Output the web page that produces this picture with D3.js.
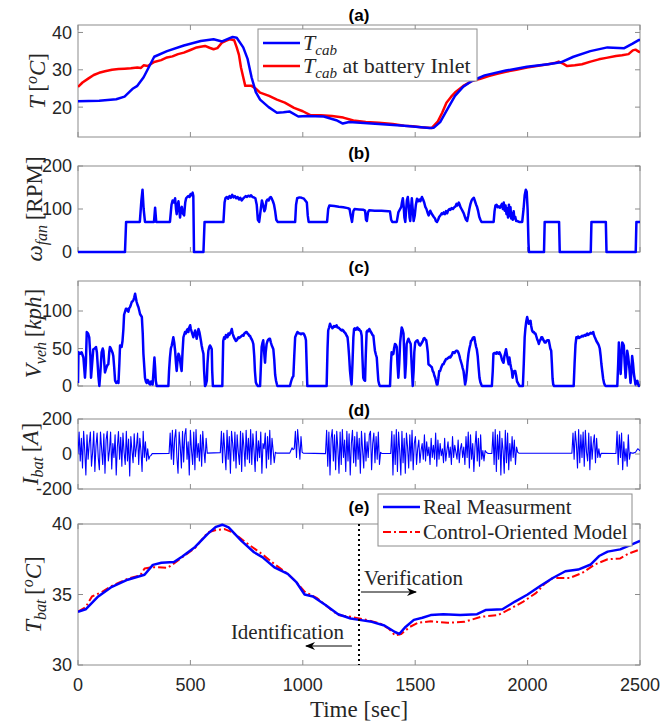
<!DOCTYPE html>
<html>
<head>
<meta charset="utf-8">
<script src="https://cdn.jsdelivr.net/npm/d3@7"></script>
<style>
  html, body { margin: 0; padding: 0; background: #fff; }
  svg { display: block; }
  .tick-label { font-family: "Liberation Sans", Arial, sans-serif; font-size: 18px; fill: #262626; }
  .title { font-family: "Liberation Sans", Arial, sans-serif; font-size: 17px; font-weight: bold; fill: #000; }
</style>
</head>
<body>
<svg id="chart" width="662" height="721"></svg>
<script>
// ---- (a) cabin temperature ----
const cabTime = [0,94,170,207,245,264,292,339,396,471,546,603,641,688,706,735,754,772,791,810,848,885,914,942,980,1017,1093,1149,1178,1206,1338,1451,1526,1564,1583,1611,1639,1677,1714,1752,1809,1903,1997,2091,2148,2204,2279,2355,2430,2467,2496,2500];
const cabTemp = [21.6,21.7,22.1,22.8,25.0,25.7,28.0,33.5,35.0,36.5,37.7,38.2,37.6,38.8,38.6,36.0,33.0,28.0,24.0,22.0,20.0,18.5,18.6,18.8,17.5,17.6,17.5,16.5,15.6,16.0,15.5,15.0,14.6,14.4,14.5,16.0,19.0,23.0,25.5,27.0,28.5,29.8,30.8,31.5,32.0,33.5,35.0,36.0,35.8,37.0,38.0,38.0];
const inletTime = [0,20,47,70,94,120,151,180,207,235,264,280,292,310,339,370,396,420,445,471,500,528,545,565,585,603,620,641,660,678,695,706,716,725,735,744,772,790,810,850,885,920,961,1000,1036,1080,1130,1180,1225,1280,1338,1400,1451,1490,1526,1573,1601,1620,1639,1660,1677,1714,1752,1790,1827,1865,1903,1950,1997,2040,2091,2120,2138,2160,2176,2210,2242,2280,2317,2350,2393,2420,2449,2468,2480,2496,2500];
const inletTemp = [25.4,26.6,27.7,28.6,29.2,29.6,30.0,30.2,30.3,30.4,30.6,30.5,31.2,31.0,32.1,32.6,33.3,33.6,34.2,34.6,35.3,36.0,36.2,36.4,35.9,35.5,35.8,37.3,37.8,38.2,37.9,36.0,34.0,30.6,28.0,25.7,25.7,25.0,23.9,23.0,22.0,21.2,19.8,18.9,17.8,17.8,17.6,17.2,16.4,16.0,15.8,15.5,15.0,14.9,14.6,14.4,16.2,18.5,21.2,22.8,23.9,25.7,27.0,27.6,28.3,28.9,29.5,30.0,30.6,31.0,31.5,31.8,32.2,31.6,31.0,31.2,31.5,32.2,32.8,33.2,33.7,33.9,34.2,35.2,35.4,34.8,34.7];

// ---- (b) fan speed ----
const fanTime = [0,209,214,275,282,287,292,298,338,343,348,409,416,421,427,432,436,439,443,447,451,454,458,462,466,472,477,481,486,491,496,501,506,510,513,516,558,563,647,652,656,662,668,674,680,686,692,698,704,710,716,722,728,734,740,746,752,758,764,770,776,782,789,795,800,806,812,818,824,829,833,838,843,848,853,858,862,867,872,877,882,888,966,970,975,985,995,1005,1011,1018,1022,1026,1108,1113,1118,1140,1160,1180,1200,1208,1213,1219,1225,1230,1250,1270,1277,1281,1285,1290,1295,1320,1350,1380,1388,1393,1398,1418,1425,1433,1438,1441,1445,1449,1452,1456,1460,1463,1467,1471,1475,1478,1482,1485,1489,1493,1498,1503,1508,1513,1518,1523,1527,1530,1535,1540,1545,1550,1556,1560,1564,1567,1572,1577,1582,1588,1592,1597,1602,1607,1612,1618,1622,1627,1632,1637,1642,1647,1652,1656,1662,1668,1674,1679,1684,1688,1694,1698,1701,1706,1711,1716,1721,1726,1731,1736,1741,1746,1751,1756,1761,1766,1771,1775,1780,1785,1790,1795,1849,1853,1857,1862,1867,1872,1877,1882,1886,1890,1894,1898,1902,1906,1909,1913,1917,1920,1924,1927,1931,1934,1938,1941,1945,1949,1955,1962,1976,1982,1987,1992,1996,2000,2004,2006,2073,2076,2140,2143,2281,2284,2348,2351,2481,2484,2500];
const fanSpeed = [0,0,70,70,120,145,100,70,70,103,70,70,110,120,115,125,100,88,110,118,95,80,100,105,90,85,115,125,128,130,128,135,132,138,130,0,0,70,70,115,125,128,124,130,126,133,127,130,125,128,122,126,120,124,127,130,128,131,129,132,128,127,125,110,75,70,95,120,108,95,100,118,122,120,126,128,124,118,110,95,75,70,70,110,125,127,126,124,120,115,85,70,70,100,108,107,105,104,102,100,85,70,95,100,99,98,96,75,72,92,97,96,96,95,94,75,70,70,92,100,105,115,125,105,80,70,100,120,128,110,80,72,105,125,100,72,85,110,124,118,122,118,124,128,122,115,105,100,90,85,92,96,90,86,82,78,72,70,75,82,85,90,88,92,88,95,90,97,100,98,102,100,104,106,112,108,115,110,105,100,95,90,82,75,72,85,100,112,120,124,126,118,110,105,95,82,75,70,70,95,108,110,104,106,103,108,112,100,115,96,108,88,102,80,110,84,104,78,90,75,95,78,82,72,72,70,70,100,132,145,140,100,20,0,0,70,70,0,0,70,70,0,0,70,70];

// ---- (c) vehicle speed ----
const vehTime = [0,2,9,16,24,31,35,39,45,50,55,58,63,68,74,80,84,87,91,95,100,105,110,113,117,120,124,127,131,135,139,142,146,150,154,157,161,165,170,175,180,184,187,191,194,198,202,205,209,213,217,221,224,228,231,235,239,243,246,250,254,257,261,265,269,273,276,280,284,288,291,295,298,302,306,310,313,317,321,325,328,332,336,340,343,346,350,402,405,409,413,417,421,424,428,432,436,439,443,447,451,454,458,461,465,469,472,476,480,484,488,491,495,499,502,506,510,513,517,521,525,528,532,536,540,543,547,550,554,558,561,565,569,573,576,580,584,587,591,595,597,600,642,646,650,654,658,661,665,669,673,676,680,684,688,691,695,699,702,706,710,714,718,721,725,729,733,736,740,744,747,750,754,758,762,765,769,773,776,780,784,787,791,795,800,810,814,817,821,824,828,832,835,839,843,847,850,854,858,862,865,869,873,877,881,885,887,943,947,951,955,958,962,966,970,973,976,980,984,988,992,996,1000,1003,1007,1011,1014,1017,1020,1106,1110,1113,1117,1121,1125,1128,1132,1135,1139,1143,1147,1150,1154,1158,1162,1165,1169,1173,1177,1180,1184,1188,1192,1195,1199,1202,1206,1210,1214,1217,1221,1225,1228,1232,1236,1239,1243,1247,1250,1254,1258,1262,1265,1269,1273,1277,1280,1284,1288,1292,1296,1299,1303,1307,1310,1314,1318,1321,1325,1329,1333,1336,1340,1343,1388,1392,1395,1399,1403,1406,1410,1414,1418,1421,1425,1429,1433,1437,1440,1444,1448,1451,1455,1459,1462,1466,1470,1474,1477,1480,1484,1489,1493,1496,1500,1505,1510,1514,1518,1522,1526,1530,1534,1537,1541,1545,1549,1552,1556,1559,1563,1567,1570,1574,1578,1582,1585,1589,1593,1596,1599,1603,1607,1611,1615,1619,1622,1626,1630,1634,1637,1641,1645,1649,1652,1656,1660,1664,1667,1671,1675,1679,1682,1686,1690,1694,1697,1700,1704,1708,1711,1715,1719,1722,1726,1730,1733,1737,1741,1745,1748,1752,1756,1760,1763,1767,1771,1774,1778,1782,1786,1790,1794,1797,1841,1845,1848,1852,1856,1860,1863,1867,1871,1875,1878,1882,1886,1889,1893,1897,1901,1904,1908,1912,1916,1919,1923,1926,1930,1933,1937,1941,1945,1949,1953,1957,1960,1964,1979,1983,1987,1990,1994,1998,2001,2005,2009,2013,2016,2020,2024,2028,2031,2035,2039,2043,2046,2050,2054,2058,2061,2065,2069,2073,2076,2080,2084,2088,2091,2094,2098,2101,2105,2108,2111,2114,2118,2205,2209,2213,2217,2221,2225,2229,2232,2235,2239,2243,2247,2250,2254,2258,2262,2265,2269,2273,2277,2280,2284,2288,2292,2295,2299,2302,2306,2310,2314,2317,2321,2325,2328,2332,2336,2340,2344,2347,2399,2403,2406,2410,2414,2418,2421,2425,2428,2432,2436,2440,2443,2447,2451,2455,2458,2462,2465,2469,2473,2477,2480,2484,2488,2491,2495,2500];
const vehSpeed = [4,45,43,45,38,11,30,72,70,65,40,11,30,49,50,52,45,31,12,0,20,45,50,47,30,18,22,25,28,29,45,52,50,47,44,40,25,7,4,6,4,30,54,52,52,60,76,95,99,103,103,100,99,104,105,108,112,113,114,118,123,118,112,108,105,100,96,94,92,70,43,25,11,6,4,8,7,3,2,6,3,2,20,38,25,7,0,0,20,38,50,54,60,65,58,47,30,20,35,43,40,34,25,20,45,65,68,72,70,74,76,72,78,81,76,72,68,65,70,74,68,63,70,76,72,67,60,54,48,43,20,0,2,7,30,47,52,54,52,49,20,0,0,60,65,63,68,67,65,70,68,70,72,76,70,67,64,62,60,61,63,65,64,65,66,67,68,67,70,71,72,72,70,69,67,67,64,62,60,56,40,20,5,2,0,0,30,52,58,61,45,31,45,56,60,62,63,63,58,54,52,49,35,15,7,2,0,0,5,9,12,13,40,65,68,70,72,71,70,70,69,70,70,70,68,65,61,30,0,0,50,74,78,83,80,79,77,78,80,79,80,81,78,78,77,76,75,74,75,74,72,71,69,67,65,56,40,20,8,2,30,65,76,77,75,76,78,75,76,74,73,67,40,11,8,7,40,72,74,73,76,74,72,70,68,67,55,47,42,38,20,7,2,0,0,30,45,42,43,50,56,55,52,30,11,30,58,70,78,75,70,45,11,30,56,60,63,60,58,56,30,0,20,45,58,60,61,58,55,54,56,58,60,63,64,62,61,55,45,29,28,27,26,25,20,18,14,11,6,2,2,10,20,20,24,27,29,29,32,34,36,36,37,38,39,38,40,42,45,45,44,46,47,47,46,43,40,36,32,28,24,20,10,2,8,20,32,43,50,55,60,61,64,65,65,58,52,49,40,25,11,5,2,0,0,20,43,44,44,43,45,44,43,45,43,40,35,33,31,40,45,49,42,35,29,38,30,25,20,11,18,20,20,14,6,4,2,0,0,30,65,76,86,92,88,83,86,87,80,74,72,72,70,70,66,62,60,56,60,62,65,65,62,60,58,58,60,61,61,61,55,50,47,30,10,2,0,0,30,55,65,64,66,64,65,65,66,67,66,67,68,67,69,70,68,69,70,71,70,70,72,68,65,63,60,58,56,54,50,40,30,20,10,4,1,0,0,30,58,40,16,40,58,56,54,30,11,30,47,40,29,15,4,20,40,30,16,8,2,6,7,3,0,2];

// ---- (d) battery current: bursts sampled every currentStep seconds ----
const currentStep = 5;
const burstStart = [0, 405, 633, 942, 1101, 1391, 1841, 2197, 2393];
const burstValues = [
  [2,125,-40,90,-80,130,20,-120,110,-30,60,125,-70,10,130,-100,45,120,-20,-90,125,30,-60,115,-110,80,130,-40,20,125,-85,60,-20,110,-120,40,128,-30,95,-70,120,10,-60,130,-40,85,-125,100,20,-50,115,-15,40,120,-60,90,20,-100,130,-20,70,-40,30,-30,-12,-8,2],
  [3,120,-30,135,-60,90,140,-20,-110,125,40,-80,130,-45,110,145,-30,70,-120,135,20,-60,125,-90,140,-20,60,-40,110,-70,130,20,-50,90,5],
  [8,130,-50,120,20,-90,135,-30,100,-110,130,60,-40,125,-80,110,10,-60,130,-100,120,40,-70,135,-30,90,-50,140,-60,115,20,-100,130,-40,75,-20,125,-110,60,30,120,-80,100,-30,135,-60,90,20,-50,10,5],
  [5,20,35,25,30,130,-20,140,60,-30,100,10,5],
  [2,135,-70,125,-120,90,140,-40,110,-90,130,30,-110,125,-60,140,-20,80,-100,130,-40,115,-120,60,135,-50,100,-70,125,-30,90,-110,130,20,-80,120,-40,70,-20,110,130,-90,60,120,-50,100,-30,125,-60,10,3],
  [3,130,-120,110,-60,140,-100,125,20,-120,130,-50,90,-110,120,40,-80,110,-40,135,-90,60,100,-60,30,80,-50,20,60,-30,110,-40,70,-10,40,-60,90,-20,50,-30,120,-70,80,-30,60,-10,30,-50,90,-40,20,70,-20,40,-60,100,-20,50,10,-30,80,-50,30,60,-20,40,-60,100,-20,125,-80,110,-30,60,-100,40,130,-40,90,-70,110,-30,20,-40,20,10,5,3],
  [3,125,-60,140,-100,110,-30,130,-120,90,20,-110,135,-50,120,-90,60,-40,100,-20,80,-60,40,10,5],
  [4,120,-30,130,60,-80,140,-50,110,-20,125,-70,135,10,-40,120,-90,100,-30,60,110,-50,90,-20,30,-20,4],
  [3,130,-60,110,-20,120,-90,70,-40,30,-70,110,-30,10,5]
];
const currentTailTime = [2470, 2480, 2490, 2495, 2500];
const currentTail = [5, 10, 30, 25, 18];

// ---- (e) battery temperature ----
const batTime = [0,34,62,90,146,221,296,333,371,427,464,521,577,614,642,670,727,783,820,876,933,970,1008,1045,1101,1157,1213,1251,1307,1363,1410,1429,1457,1494,1532,1569,1625,1700,1775,1813,1888,1944,2000,2056,2112,2168,2225,2281,2318,2356,2412,2449,2500];
const batMeasured = [33.78,33.95,34.4,34.86,35.5,36.05,36.4,37.1,37.25,37.3,37.7,38.37,39.3,39.8,39.95,39.76,38.8,38.0,37.65,36.9,36.46,35.9,35.0,34.86,34.26,33.6,33.3,33.2,33.06,32.8,32.34,32.2,32.7,33.2,33.35,33.54,33.6,33.54,33.6,33.9,33.95,34.5,35.0,35.6,36.17,36.65,36.77,37.13,37.73,38.04,38.2,38.45,38.8];
const modelTime = [0,34,62,109,146,221,277,296,333,399,427,464,521,577,614,652,689,746,820,876,933,970,1008,1064,1120,1157,1213,1270,1345,1382,1410,1438,1476,1513,1569,1644,1719,1794,1869,1925,1981,2037,2075,2112,2187,2243,2299,2356,2412,2449,2500];
const batModel = [33.78,34.1,34.86,35.2,35.57,36.12,36.36,36.84,36.94,36.9,37.2,37.65,38.3,39.4,39.57,39.64,39.4,38.7,37.85,37.13,36.46,35.9,35.2,34.74,34.0,33.54,33.42,33.25,32.94,32.58,32.1,32.2,32.7,33.0,33.1,33.0,33.06,33.42,33.54,34.0,34.5,35.1,35.74,36.17,36.17,36.53,37.13,37.5,37.56,37.9,38.2];
const splitTime = 1250;

const xTicks = [0, 500, 1000, 1500, 2000, 2500];
const legendA = ["cab", " at battery Inlet"];
const legendE = ["Real Measurment", "Control-Oriented Model"];

// ---------- drawing ----------
const SERIF = '"Liberation Serif", "Times New Roman", serif';
const svg = d3.select("#chart");
const left = 78, right = 640;
const x = d3.scaleLinear().domain([0, 2500]).range([left, right]);
const BLUE = "#0000ff", RED = "#ff0000", FRAME = "#8c8c8c";

const panels = [
  { id: "a", top: 25,  bottom: 137, domain: [12, 42],    ticks: [20, 30, 40],    titleY: 21,  labelX: 37 },
  { id: "b", top: 166, bottom: 252, domain: [0, 200],    ticks: [0, 100, 200],   titleY: 159, labelX: 34 },
  { id: "c", top: 281, bottom: 386, domain: [0, 140],    ticks: [0, 50, 100],    titleY: 273, labelX: 33 },
  { id: "d", top: 419, bottom: 489, domain: [-200, 200], ticks: [-200, 0, 200],  titleY: 416, labelX: 30 },
  { id: "e", top: 524, bottom: 665, domain: [30, 40],    ticks: [30, 35, 40],    titleY: 513, labelX: 33 }
];
panels.forEach(p => { p.y = d3.scaleLinear().domain(p.domain).range([p.bottom, p.top]); });
const P = Object.fromEntries(panels.map(p => [p.id, p]));

function zip(ts, vs) { return ts.map((t, i) => [t, vs[i]]); }
function drawLine(p, data, color, width, dash) {
  const line = d3.line().x(d => x(d[0])).y(d => p.y(d[1]));
  svg.append("path").datum(data)
    .attr("d", line).attr("fill", "none")
    .attr("stroke", color).attr("stroke-width", width)
    .attr("stroke-linejoin", "round")
    .attr("stroke-dasharray", dash || null)
    .attr("clip-path", `url(#clip-${p.id})`);
}
function richText(sel, parts, subSize, supSize) {
  parts.forEach(([txt, style]) => {
    const s = sel.append("tspan").attr("font-family", SERIF).text(txt);
    if (style.includes("i")) s.attr("font-style", "italic");
    if (style.includes("sub")) s.attr("font-size", subSize).attr("baseline-shift", "-5");
    if (style.includes("sup")) s.attr("font-size", supSize).attr("baseline-shift", "8");
  });
}

const defs = svg.append("defs");
panels.forEach(p => {
  defs.append("clipPath").attr("id", "clip-" + p.id)
    .append("rect").attr("x", left).attr("y", p.top - 2)
    .attr("width", right - left).attr("height", p.bottom - p.top + 4);
});
defs.append("marker").attr("id", "arrowhead").attr("viewBox", "0 0 10 10")
  .attr("refX", 9).attr("refY", 5).attr("markerWidth", 10).attr("markerHeight", 10)
  .attr("markerUnits", "userSpaceOnUse").attr("orient", "auto")
  .append("path").attr("d", "M0,1 L10,5 L0,9 L3,5 Z").attr("fill", "#000");

// axes frames, ticks and labels
panels.forEach(p => {
  const g = svg.append("g");
  g.append("rect").attr("x", left).attr("y", p.top)
    .attr("width", right - left).attr("height", p.bottom - p.top)
    .attr("fill", "#fff").attr("stroke", FRAME).attr("stroke-width", 1);

  const tl = 5;
  xTicks.forEach(t => {
    g.append("line").attr("x1", x(t)).attr("x2", x(t)).attr("y1", p.bottom).attr("y2", p.bottom - tl).attr("stroke", FRAME);
    g.append("line").attr("x1", x(t)).attr("x2", x(t)).attr("y1", p.top).attr("y2", p.top + tl).attr("stroke", FRAME);
  });
  p.ticks.forEach(v => {
    g.append("line").attr("x1", left).attr("x2", left + tl).attr("y1", p.y(v)).attr("y2", p.y(v)).attr("stroke", FRAME);
    g.append("line").attr("x1", right).attr("x2", right - tl).attr("y1", p.y(v)).attr("y2", p.y(v)).attr("stroke", FRAME);
    g.append("text").attr("class", "tick-label")
      .attr("x", left - 6).attr("y", p.y(v)).attr("dy", "0.36em")
      .attr("text-anchor", "end").text(v);
  });

  svg.append("text").attr("class", "title")
    .attr("x", (left + right) / 2).attr("y", p.titleY)
    .attr("text-anchor", "middle").text(`(${p.id})`);
});

// x tick labels on the bottom panel
xTicks.forEach(t => {
  svg.append("text").attr("class", "tick-label")
    .attr("x", x(t)).attr("y", 691).attr("text-anchor", "middle").text(t);
});
svg.append("text").attr("font-family", SERIF).attr("fill", "#262626")
  .attr("x", (left + right) / 2).attr("y", 717).attr("text-anchor", "middle")
  .attr("font-size", 23).text("Time [sec]");

// y axis titles (rotated, with sub/superscripts)
function yTitle(p, parts) {
  const t = svg.append("text").attr("font-family", SERIF).attr("fill", "#262626")
    .attr("font-size", 23).attr("text-anchor", "middle")
    .attr("transform", `translate(${p.labelX},${(p.top + p.bottom) / 2}) rotate(-90)`)
    .attr("dy", "0.35em");
  richText(t, parts, 16, 16);
}
yTitle(P.a, [["T", "i"], ["\u2009[", ""], ["o", "i sup"], ["C", "i"], ["]", ""]]);
yTitle(P.b, [["ω", "i"], ["fan", "i sub"], ["\u2009[RPM]", ""]]);
yTitle(P.c, [["V", "i"], ["veh", "i sub"], ["\u2009[", ""], ["kph", "i"], ["]", ""]]);
yTitle(P.d, [["I", "i"], ["bat", "i sub"], ["\u2009[", ""], ["A", "i"], ["]", ""]]);
yTitle(P.e, [["T", "i"], ["bat", "i sub"], ["\u2009[", ""], ["o", "i sup"], ["C", "i"], ["]", ""]]);

// (a)
drawLine(P.a, zip(inletTime, inletTemp), RED, 2.5);
drawLine(P.a, zip(cabTime, cabTemp), BLUE, 2.5);

// (b)
drawLine(P.b, zip(fanTime, fanSpeed), BLUE, 2.5);

// (c)
drawLine(P.c, zip(vehTime, vehSpeed), BLUE, 2.5);

// (d) bursts joined by idle stretches
const currentData = [];
burstStart.forEach((s, k) => {
  burstValues[k].forEach((v, i) => currentData.push([s + i * currentStep, v]));
});
currentTailTime.forEach((t, i) => currentData.push([t, currentTail[i]]));
drawLine(P.d, currentData, BLUE, 1.1);

// (e)
drawLine(P.e, zip(modelTime, batModel), RED, 2, "8,3,2,3");
drawLine(P.e, zip(batTime, batMeasured), BLUE, 2.5);
svg.append("line").attr("x1", x(splitTime)).attr("x2", x(splitTime))
  .attr("y1", P.e.top).attr("y2", P.e.bottom)
  .attr("stroke", "#000").attr("stroke-width", 2).attr("stroke-dasharray", "2,3");

svg.append("text").attr("font-family", SERIF).attr("fill", "#262626").attr("font-size", 21)
  .attr("x", 364).attr("y", 585).text("Verification");
svg.append("line").attr("x1", x(splitTime) + 2).attr("x2", 416).attr("y1", 592).attr("y2", 592)
  .attr("stroke", "#000").attr("stroke-width", 1).attr("marker-end", "url(#arrowhead)");
svg.append("text").attr("font-family", SERIF).attr("fill", "#262626").attr("font-size", 21)
  .attr("x", 344).attr("y", 639).attr("text-anchor", "end").text("Identification");
svg.append("line").attr("x1", x(splitTime) - 7).attr("x2", 306).attr("y1", 646).attr("y2", 646)
  .attr("stroke", "#000").attr("stroke-width", 1).attr("marker-end", "url(#arrowhead)");

// legends
function legend(bx, by, bw, bh, size, rows) {
  const g = svg.append("g");
  g.append("rect").attr("x", bx).attr("y", by).attr("width", bw).attr("height", bh)
    .attr("fill", "#fff").attr("stroke", FRAME).attr("stroke-width", 1);
  rows.forEach(r => {
    g.append("line").attr("x1", bx + 5).attr("x2", bx + 42).attr("y1", r.y).attr("y2", r.y)
      .attr("stroke", r.color).attr("stroke-width", r.width).attr("stroke-dasharray", r.dash || null);
    const t = g.append("text").attr("font-family", SERIF).attr("fill", "#262626").attr("font-size", size)
      .attr("x", bx + 45).attr("y", r.y).attr("dy", "0.33em");
    richText(t, r.parts, 15, 15);
  });
}
legend(258, 29, 219, 52, 22, [
  { y: 43, color: BLUE, width: 2.5, parts: [["T", "i"], [legendA[0], "i sub"]] },
  { y: 66, color: RED, width: 2.5, parts: [["T", "i"], [legendA[0], "i sub"], [legendA[1], ""]] }
]);
legend(378, 494, 254, 52, 21, [
  { y: 507, color: BLUE, width: 2.5, parts: [[legendE[0], ""]] },
  { y: 532, color: RED, width: 2, dash: "8,3,2,3", parts: [[legendE[1], ""]] }
]);
</script>
</body>
</html>
